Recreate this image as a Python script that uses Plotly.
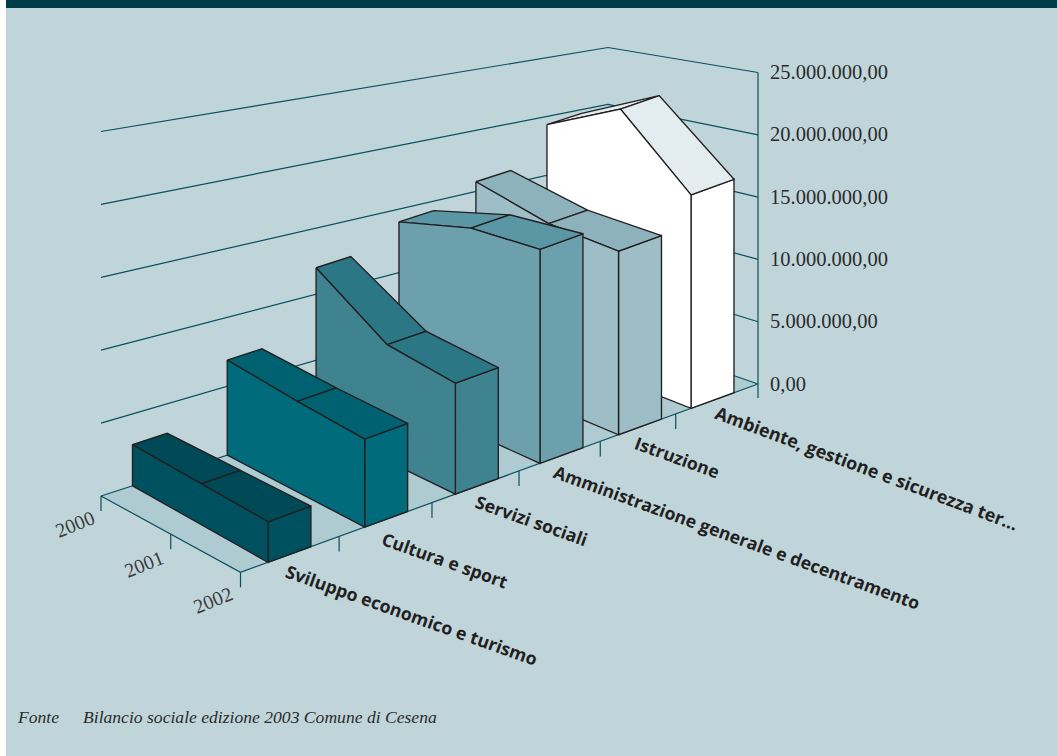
import plotly.graph_objects as go

# Spending per sector and year, in euro
categories = ["Sviluppo economico e turismo", "Cultura e sport", "Servizi sociali",
              "Amministrazione generale e decentramento", "Istruzione",
              "Ambiente, gestione e sicurezza ter…"]
years = ["2000", "2001", "2002"]
sviluppo = [2870000, 2980000, 3080000]
cultura = [6900000, 6750000, 6760000]
servizi = [12000000, 8900000, 8600000]
amministrazione = [14000000, 16000000, 16750000]
istruzione = [15800000, 14600000, 14500000]
ambiente = [19300000, 22300000, 17000000]
series = [sviluppo, cultura, servizi, amministrazione, istruzione, ambiente]
axis_values = [0, 5000000, 10000000, 15000000, 20000000, 25000000]
axis_labels = ["0,00", "5.000.000,00", "10.000.000,00", "15.000.000,00",
               "20.000.000,00", "25.000.000,00"]

# Oblique view: floor corners and height of one 5M step at each corner
CORNER_A, CORNER_B, CORNER_C, CORNER_D = (101, 496), (240.5, 572.3), (758, 384), (608, 332)
STEP_A, STEP_B, STEP_C, STEP_D = 72.9, 66.0, 62.3, 56.9
YEAR_DEPTH = [0, 0.51, 1]

FACE = ["#00515f", "#006b7a", "#3f8290", "#6ca0ac", "#9dbdc7", "#ffffff"]
TOP = ["#004a58", "#006170", "#2b7786", "#5b96a4", "#8db2bc", "#e3ecee"]
BG = "#c0d5da"
FLOOR = "#afcbd2"
GRID = "#0a4f5e"
EDGE = "#231f20"
TEXT = "#2b2b2b"


def project(t, f, value=0, height_t=None):
    """Map axis fraction t, depth fraction f and a value to chart coordinates.

    height_t lets both edges of a ribbon share one vertical scale.
    """
    ht = t if height_t is None else height_t
    x0 = CORNER_A[0] + t * (CORNER_D[0] - CORNER_A[0])
    y0 = CORNER_A[1] + t * (CORNER_D[1] - CORNER_A[1])
    x1 = CORNER_B[0] + t * (CORNER_C[0] - CORNER_B[0])
    y1 = CORNER_B[1] + t * (CORNER_C[1] - CORNER_B[1])
    s0 = STEP_A + ht * (STEP_D - STEP_A)
    s1 = STEP_B + ht * (STEP_C - STEP_B)
    step = s0 + f * (s1 - s0)
    return x0 + f * (x1 - x0), y0 + f * (y1 - y0) - value / 5e6 * step


def band_start(k, f):
    return 0.0531 + 0.1869 * k - 0.00585 * k * (k - 1) + 0.009 * (1 - f)


def band_width(f):
    return 0.083 - 0.0145 * (1 - f)


def tick_t(k):
    return 0.1906 * k - 0.0056 * k * (k - 1)


fig = go.Figure()


def polygon(points, fill=None, color=EDGE, width=1.35):
    xs = [p[0] for p in points]
    ys = [p[1] for p in points]
    if fill:
        xs.append(xs[0])
        ys.append(ys[0])
    fig.add_trace(go.Scatter(x=xs, y=ys, mode="lines", fill="toself" if fill else None,
                             fillcolor=fill, line=dict(color=color, width=width),
                             hoverinfo="skip", showlegend=False))


# Floor, wall gridlines and value axis
polygon([project(0, 0), project(0, 1), project(1, 1), project(1, 0)], fill=FLOOR, color=GRID, width=1.2)
for v in axis_values[1:]:
    polygon([project(0, 0, v), project(1, 0, v), project(1, 1, v)], color=GRID, width=1.2)
bx, by = project(1, 1)
polygon([project(1, 1, axis_values[-1]), (bx, by + 14)], color=GRID, width=1.2)

# Tick marks under the floor edges
for f in (0, 0.5, 1):
    x, y = project(0, f)
    polygon([(x, y), (x, y + 15)], color=GRID, width=1.2)
for k in range(1, 6):
    x, y = project(tick_t(k), 1)
    polygon([(x, y), (x, y + 15)], color=GRID, width=1.2)

# Ribbons, back to front
for k in range(len(series) - 1, -1, -1):
    vals = series[k]
    front = [band_start(k, f) for f in YEAR_DEPTH]
    back = [band_start(k, f) + band_width(f) for f in YEAR_DEPTH]
    # end face
    polygon([project(front[2], 1), project(back[2], 1),
             project(back[2], 1, vals[2], front[2]), project(front[2], 1, vals[2])], fill=FACE[k])
    # sloped top, one panel per year interval
    for i in range(2):
        polygon([project(front[i], YEAR_DEPTH[i], vals[i]),
                 project(front[i + 1], YEAR_DEPTH[i + 1], vals[i + 1]),
                 project(back[i + 1], YEAR_DEPTH[i + 1], vals[i + 1], front[i + 1]),
                 project(back[i], YEAR_DEPTH[i], vals[i], front[i])],
                fill=TOP[k])
    # long front face
    polygon([project(front[i], YEAR_DEPTH[i], vals[i]) for i in range(3)]
            + [project(front[2], 1), project(front[0], 0)], fill=FACE[k])

annotations = []


def label(text, x, y, size, family, angle=0, anchor="center", color=TEXT, bold=False):
    annotations.append(dict(x=x, y=y, xref="x", yref="y", text=f"<b>{text}</b>" if bold else text,
                            showarrow=False, xanchor=anchor, yanchor="middle", textangle=angle,
                            font=dict(size=size, family=family, color=color)))


for v, text in zip(axis_values, axis_labels):
    x, y = project(1, 1, v)
    label(text, x + 10, y - 0.5, 20.5, "Liberation Serif", anchor="left")

for text, cx, cy in zip(years, (75, 144, 213), (524, 564, 600)):
    label(text, cx, cy, 20, "Liberation Serif", angle=-22, color="#3a3a3a")

CAT_INK = "#231f20"
label(categories[0], 412, 615, 17.7, "Open Sans", angle=19.6, color=CAT_INK, bold=True)
label(categories[1], 445, 560, 17.6, "Open Sans", angle=19.6, color=CAT_INK, bold=True)
label(categories[2], 531, 520, 17.6, "Open Sans", angle=19.6, color=CAT_INK, bold=True)
label(categories[3], 737, 537, 17.6, "Open Sans", angle=20, color=CAT_INK, bold=True)
label(categories[4], 677, 457, 17.6, "Open Sans", angle=20, color=CAT_INK, bold=True)
label(categories[5], 867, 468, 17.9, "Open Sans", angle=20.5, color=CAT_INK, bold=True)

label("<i>Fonte</i>", 15, 717, 17.6, "Liberation Serif", anchor="left")
label("<i>Bilancio sociale edizione 2003 Comune di Cesena</i>", 81, 717, 17.6, "Liberation Serif", anchor="left")

# White page edge and dark header band
shapes = [
    dict(type="rect", xref="x", yref="y", x0=0, x1=6, y0=0, y1=756, fillcolor="#ffffff", line_width=0, layer="below"),
    dict(type="rect", xref="x", yref="y", x0=6, x1=1057, y0=0, y1=8, fillcolor="#003d4a", line_width=0, layer="below"),
]

fig.update_layout(
    width=1057, height=756, margin=dict(l=0, r=0, t=0, b=0),
    plot_bgcolor=BG, paper_bgcolor=BG, shapes=shapes, annotations=annotations,
    xaxis=dict(range=[0, 1057], visible=False, fixedrange=True),
    yaxis=dict(range=[756, 0], visible=False, fixedrange=True),
)
fig.write_html("out.html", config=dict(displayModeBar=False))
